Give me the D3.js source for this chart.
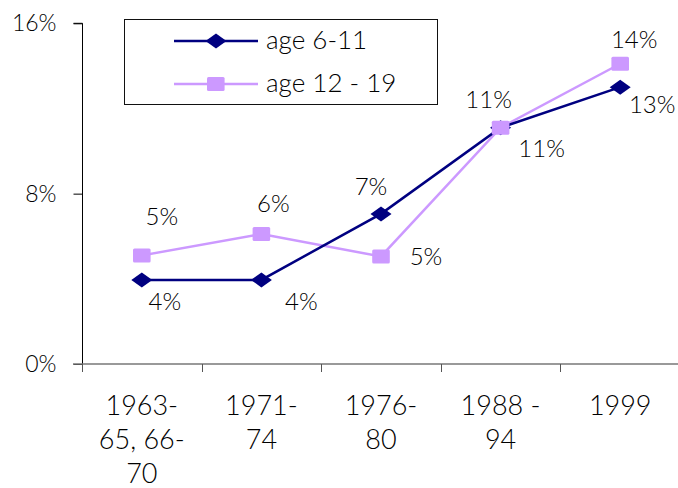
<!DOCTYPE html>
<html>
<head>
<meta charset="utf-8">
<script src="https://cdn.jsdelivr.net/npm/d3@7"></script>
<style>
  html, body { margin: 0; padding: 0; background: #fff; }
  svg { display: block; }
  text { font-family: Lato, "Open Sans", sans-serif; font-weight: 300; fill: #000; }
</style>
</head>
<body>
<svg id="chart" width="678" height="488"></svg>
<script>
// ---- data ----
const categories = ["1963-65, 66-70", "1971-74", "1976-80", "1988 - 94", "1999"];
const categoryLines = [["1963-", "65, 66-", "70"], ["1971-", "74"], ["1976-", "80"], ["1988 -", "94"], ["1999"]];
const seriesNames = ["age 6-11", "age 12 - 19"];
const age6to11 = [3.95, 3.95, 7.05, 11.1, 13.0];
const age12to19 = [5.1, 6.1, 5.05, 11.1, 14.1];
const labels6to11 = ["4%", "4%", "7%", "11%", "13%"];
const labels12to19 = ["5%", "6%", "5%", "11%", "14%"];
const yTicks = [0, 8, 16];
const yTickLabels = ["0%", "8%", "16%"];

// ---- layout / style (not data) ----
const offs6to11 = [[23, 30], [40, 30], [-10, -19], [41, 29], [32, 26]];
const offs12to19 = [[20, -30], [12, -22], [45, 9], [-12, -20], [14, -16]];
const navy = "#000080", lilac = "#CC99FF";

const svg = d3.select("#chart");
const x = d3.scaleBand().domain(categories).range([82, 680]);
const y = d3.scaleLinear().domain([0, 16]).range([364, 23.3]);
const cx = c => x(c) + x.bandwidth() / 2;

// y axis
const yAxis = svg.append("g").attr("transform", "translate(82.5,0)")
  .call(d3.axisLeft(y).tickValues(yTicks).tickSize(9).tickPadding(17)
    .tickFormat((d, i) => yTickLabels[i]));
yAxis.select(".domain").attr("stroke", "#000").attr("d", `M-9,${y(16)}H0V${y(0)}`);
yAxis.selectAll(".tick line").attr("stroke", "#000");
yAxis.selectAll(".tick text").style("font-size", "23px").style("font-family", "Lato, sans-serif")
  .style("font-weight", 300).attr("fill", "#000");

// x axis
const xAxis = svg.append("g").attr("transform", `translate(0,${y(0)})`);
xAxis.append("line").attr("x1", 73).attr("x2", 678).attr("y1", 0).attr("y2", 0)
  .attr("stroke", "#777").attr("stroke-width", 1.5);
xAxis.selectAll("line.tk").data(categories).join("line").attr("class", "tk")
  .attr("x1", d => Math.round(x(d)) + 0.5).attr("x2", d => Math.round(x(d)) + 0.5)
  .attr("y1", 0).attr("y2", 8).attr("stroke", "#555").attr("stroke-width", 1);
const xl = xAxis.selectAll("text.cat").data(categories).join("text").attr("class", "cat")
  .attr("text-anchor", "middle").style("font-size", "27px");
xl.each(function (d, i) {
  d3.select(this).selectAll("tspan").data(categoryLines[i]).join("tspan")
    .attr("x", cx(d)).attr("y", (t, j) => 51 + j * 34).text(t => t);
});

// lines
const line = d3.line().x((d, i) => cx(categories[i])).y(d => y(d));
svg.append("path").datum(age12to19).attr("d", line).attr("fill", "none")
  .attr("stroke", lilac).attr("stroke-width", 2.5);
svg.append("path").datum(age6to11).attr("d", line).attr("fill", "none")
  .attr("stroke", navy).attr("stroke-width", 2.5);

const diamond = "M0,-7.5L10.5,0L0,7.5L-10.5,0Z";
svg.selectAll("path.dia").data(age6to11).join("path").attr("class", "dia")
  .attr("d", diamond).attr("fill", navy)
  .attr("transform", (d, i) => `translate(${cx(categories[i])},${y(d)})`);
svg.selectAll("rect.sq").data(age12to19).join("rect").attr("class", "sq")
  .attr("x", (d, i) => cx(categories[i]) - 8.8).attr("y", d => y(d) - 7)
  .attr("width", 17.6).attr("height", 14).attr("rx", 1.5).attr("fill", lilac);

// data labels
svg.selectAll("text.l1").data(age6to11).join("text").attr("class", "l1")
  .attr("x", (d, i) => cx(categories[i]) + offs6to11[i][0])
  .attr("y", (d, i) => y(d) + offs6to11[i][1])
  .attr("text-anchor", "middle").style("font-size", "24px")
  .text((d, i) => labels6to11[i]);
svg.selectAll("text.l2").data(age12to19).join("text").attr("class", "l2")
  .attr("x", (d, i) => cx(categories[i]) + offs12to19[i][0])
  .attr("y", (d, i) => y(d) + offs12to19[i][1])
  .attr("text-anchor", "middle").style("font-size", "24px")
  .text((d, i) => labels12to19[i]);

// legend
const lg = svg.append("g");
lg.append("rect").attr("x", 124.5).attr("y", 19.5).attr("width", 313).attr("height", 85)
  .attr("fill", "#fff").attr("stroke", "#111").attr("stroke-width", 1);
const ly = [41, 84];
[navy, lilac].forEach((col, i) => {
  lg.append("line").attr("x1", 174).attr("x2", 258).attr("y1", ly[i]).attr("y2", ly[i])
    .attr("stroke", col).attr("stroke-width", 2.5);
  if (i === 0) {
    lg.append("path").attr("d", diamond).attr("fill", col).attr("transform", `translate(216,${ly[i]})`);
  } else {
    lg.append("rect").attr("x", 207).attr("y", ly[i] - 7).attr("width", 17.6).attr("height", 14)
      .attr("rx", 1.5).attr("fill", col);
  }
  lg.append("text").attr("x", 266).attr("y", ly[i] + 8).style("font-size", "26px")
    .text(seriesNames[i]);
});
</script>
</body>
</html>
